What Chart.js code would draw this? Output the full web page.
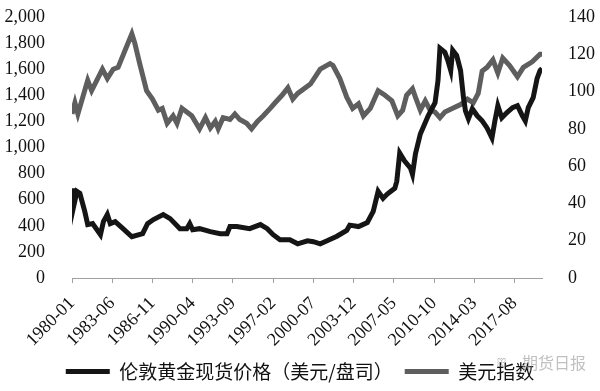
<!DOCTYPE html>
<html>
<head>
<meta charset="utf-8">
<script src="https://cdn.jsdelivr.net/npm/chart.js@4/dist/chart.umd.min.js"></script>
<style>
html,body{margin:0;padding:0;background:#fff;}
#wrap{width:600px;height:391px;position:relative;}
</style>
</head>
<body>
<div id="wrap"><canvas id="c" width="600" height="391"></canvas></div>
<script>
// ---- data ----
const seriesNames = ['伦敦黄金现货价格（美元/盘司）', '美元指数'];
const xTickLabels = ['1980-01','1983-06','1986-11','1990-04','1993-09','1997-02','2000-07','2003-12','2007-05','2010-10','2014-03','2017-08'];
const firstMonth = '1980-01';
const lastMonth = '2019-12';

const goldMonths = ['1980-01','1980-02','1980-06','1980-09','1981-02','1981-05','1981-10','1982-06','1982-09','1983-01','1983-04','1983-09','1984-05','1985-02','1986-01','1986-06','1986-12','1987-10','1988-05','1989-03','1989-10','1990-01','1990-04','1990-11','1991-10','1992-08','1993-03','1993-06','1994-01','1995-02','1996-01','1996-08','1997-02','1997-09','1998-07','1999-03','2000-01','2000-07','2001-02','2001-09','2002-07','2003-05','2003-08','2004-05','2005-02','2005-08','2006-01','2006-06','2006-10','2007-02','2007-06','2007-08','2007-11','2008-04','2008-10','2008-12','2009-03','2009-08','2010-04','2010-11','2011-02','2011-04','2011-09','2011-12','2012-03','2012-05','2012-09','2013-01','2013-04','2013-06','2013-09','2014-01','2014-06','2014-11','2015-04','2015-09','2015-12','2016-03','2016-07','2016-12','2017-06','2017-11','2018-04','2018-07','2018-10','2019-03','2019-07','2019-10','2019-12'];
const goldValues = [687,525,664,649,510,409,417,332,432,486,417,432,378,316,340,417,448,486,455,378,378,417,370,378,355,340,340,394,394,378,409,378,332,293,293,262,285,278,262,285,320,365,405,394,425,510,664,610,641,664,687,741,957,896,842,795,950,1104,1243,1343,1513,1760,1729,1668,1590,1745,1706,1590,1382,1281,1220,1297,1243,1204,1150,1073,1204,1320,1227,1266,1305,1320,1243,1204,1305,1382,1529,1590,1606];

const usdMonths = ['1980-01','1980-04','1980-07','1981-05','1981-09','1982-08','1983-01','1983-07','1983-12','1984-07','1985-02','1985-05','1985-10','1986-05','1986-11','1987-05','1987-09','1988-02','1988-08','1988-12','1989-05','1989-10','1990-03','1990-11','1991-05','1991-10','1992-03','1992-06','1992-11','1993-06','1993-11','1994-04','1994-11','1995-04','1995-10','1996-04','1996-11','1997-04','1997-11','1998-05','1998-10','1999-03','2000-04','2001-02','2001-12','2002-03','2002-10','2003-05','2003-11','2004-05','2004-10','2005-05','2006-01','2006-08','2007-03','2007-09','2008-02','2008-06','2008-12','2009-03','2009-08','2010-01','2010-06','2010-11','2011-04','2011-09','2012-05','2013-01','2013-08','2014-02','2014-07','2014-11','2015-04','2015-10','2016-03','2016-08','2017-03','2017-11','2018-05','2019-02','2019-10','2019-12'];
const usdValues = [88,94,88,106,100.5,112,107,112,113,122,131,126,115,100.5,96,90,91,83,87,83,91,89,87,80,86,80.5,84,80,86,85,88,85,83,80,84,87,91,94,98,102,96,99,104,112,115,114,107,97,91,93.5,87,91,100.5,98,95,87,90,98,101.5,97,90,95,90,89,86,89,91,93,96,94,99,111,113,117,110,118,114,108,113,116,120,120];

const leftTicks = {min:0, max:2000, step:200};
const rightTicks = {min:0, max:140, step:20};

// ---- helpers ----
function monthIndex(s){
  const [y,m] = s.split('-').map(Number);
  const [y0,m0] = firstMonth.split('-').map(Number);
  return (y - y0) * 12 + (m - m0);
}
function toPoints(months, values){
  return months.map((mo, i) => ({x: monthIndex(mo), y: values[i]}));
}

const serif = "'Liberation Serif', 'DejaVu Serif', serif";
const cjk = "'Noto Sans CJK SC', 'Noto Sans', sans-serif";

const watermark = {
  id: 'watermark',
  afterDraw(chart){
    const ctx = chart.ctx;
    ctx.save();
    ctx.fillStyle = 'rgba(140,140,140,0.55)';
    ctx.font = "16px " + cjk;
    ctx.textBaseline = 'middle';
    ctx.textAlign = 'left';
    ctx.fillText('期货日报', 522, 363);
    ctx.font = "12px " + cjk;
    ctx.fillText('ꕥ', 496, 362);
    ctx.restore();
  }
};

function fixVerticalPadding(scale){
  scale.paddingTop = 10;
  scale.paddingBottom = 10;
}

new Chart(document.getElementById('c'), {
  type: 'line',
  data: {
    datasets: [
      {
        label: seriesNames[0],
        data: toPoints(goldMonths, goldValues),
        borderColor: '#151515',
        backgroundColor: '#151515',
        borderWidth: 5,
        pointRadius: 0,
        tension: 0,
        yAxisID: 'yL'
      },
      {
        label: seriesNames[1],
        data: toPoints(usdMonths, usdValues),
        borderColor: '#5e5e5e',
        backgroundColor: '#5e5e5e',
        borderWidth: 5,
        pointRadius: 0,
        tension: 0,
        yAxisID: 'yR'
      }
    ]
  },
  options: {
    responsive: false,
    animation: false,
    layout: {padding: {top: 17, bottom: 0, left: 0, right: 0}},
    plugins: {
      tooltip: {enabled: false},
      legend: {
        position: 'bottom',
        labels: {
          font: {family: cjk, size: 19},
          color: '#111',
          boxWidth: 44,
          boxHeight: 5,
          padding: 12,
          generateLabels(chart){
            return chart.data.datasets.map((ds, i) => ({
              text: ds.label,
              fillStyle: ds.borderColor,
              strokeStyle: ds.borderColor,
              lineWidth: 0,
              fontColor: '#111',
              datasetIndex: i,
              hidden: false
            }));
          }
        }
      }
    },
    scales: {
      x: {
        type: 'linear',
        min: monthIndex(firstMonth),
        max: monthIndex(lastMonth),
        afterBuildTicks(scale){
          scale.ticks = xTickLabels.map(l => ({value: monthIndex(l)}));
        },
        afterFit(scale){ scale.height = 72; },
        grid: {display: true, drawOnChartArea: false, drawTicks: true, tickLength: 5, color: '#a0a0a0'},
        border: {display: true, color: '#a0a0a0', width: 1},
        ticks: {
          autoSkip: false,
          minRotation: 45,
          maxRotation: 45,
          padding: 10,
          color: '#111',
          font: {family: serif, size: 18},
          callback(v){
            const l = xTickLabels.find(t => monthIndex(t) === v);
            return l || '';
          }
        }
      },
      yL: {
        type: 'linear',
        position: 'left',
        min: leftTicks.min, max: leftTicks.max,
        afterFit(scale){ scale.width = 72; fixVerticalPadding(scale); },
        grid: {display: false},
        border: {display: false},
        ticks: {
          stepSize: leftTicks.step,
          autoSkip: false,
          padding: 19,
          color: '#111',
          font: {family: serif, size: 18},
          callback(v){ return v.toLocaleString('en-US'); }
        }
      },
      yR: {
        type: 'linear',
        position: 'right',
        min: rightTicks.min, max: rightTicks.max,
        afterFit(scale){ scale.width = 58; fixVerticalPadding(scale); },
        grid: {display: false},
        border: {display: false},
        ticks: {
          stepSize: rightTicks.step,
          autoSkip: false,
          padding: 18,
          color: '#111',
          font: {family: serif, size: 18}
        }
      }
    }
  },
  plugins: [watermark]
});
</script>
</body>
</html>
